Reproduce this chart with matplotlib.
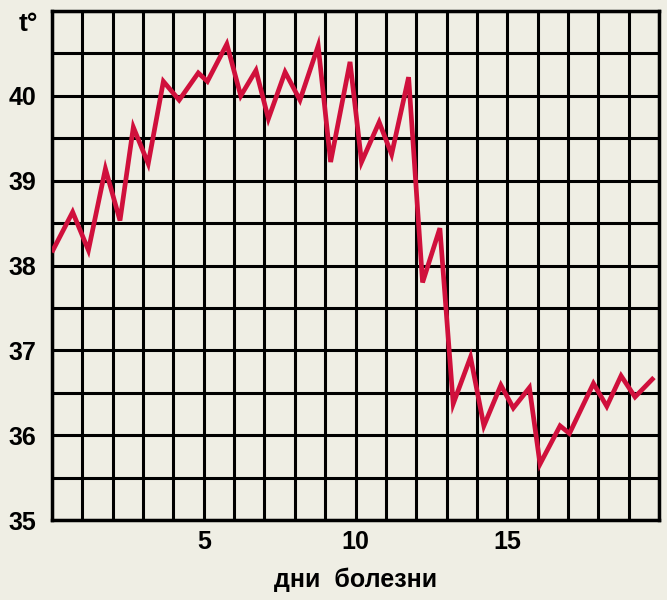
import matplotlib
matplotlib.use("Agg")
import matplotlib.pyplot as plt

days = [0.03, 0.68, 1.2, 1.76, 2.24, 2.68, 3.17, 3.67, 4.19, 4.82, 5.12, 5.76,
        6.22, 6.72, 7.13, 7.68, 8.17, 8.77, 9.18, 9.82, 10.2, 10.78, 11.19,
        11.75, 12.21, 12.78, 13.22, 13.79, 14.23, 14.79, 15.2, 15.73, 16.08,
        16.74, 17.05, 17.84, 18.28, 18.75, 19.21, 19.78]
temps = [38.18, 38.63, 38.18, 39.14, 38.53, 39.63, 39.2, 40.17, 39.95, 40.27,
         40.17, 40.61, 40.0, 40.3, 39.73, 40.28, 39.95, 40.59, 39.22, 40.4,
         39.22, 39.69, 39.31, 40.22, 37.8, 38.44, 36.37, 36.92, 36.11, 36.59,
         36.32, 36.56, 35.66, 36.11, 36.02, 36.61, 36.34, 36.7, 36.45, 36.66]

x_ticks = [5, 10, 15]
y_ticks = [35, 36, 37, 38, 39, 40]
x_label = "дни  болезни"
y_label = "t°"

bg = "#efeee4"
plt.rcParams['font.family'] = ['Liberation Sans', 'DejaVu Sans']

fig = plt.figure(figsize=(6.67, 6.0), dpi=100, facecolor=bg)
ax = fig.add_axes([52/667, 80/600, 607/667, 509/600])
ax.set_facecolor(bg)

ax.set_xlim(0, 20)
ax.set_ylim(35, 41)

# grid
for gx in range(0, 21):
    ax.axvline(gx, color="black", lw=2.2, zorder=1)
for i in range(13):
    ax.axhline(35 + 0.5 * i, color="black", lw=2.2, zorder=1)

ax.plot(days, temps, color="#d0103c", lw=3.4, solid_joinstyle="miter", zorder=3)

ax.set_xticks(x_ticks)
ax.set_yticks(y_ticks)
ax.tick_params(length=0, labelsize=18)
ax.tick_params(axis="y", pad=11)
ax.tick_params(axis="x", pad=7)
for lab in ax.get_xticklabels() + ax.get_yticklabels():
    lab.set_fontweight("bold")

for s in ax.spines.values():
    s.set_linewidth(2.5)
    s.set_color("black")

ax.set_xlabel(x_label, fontsize=18, fontweight="bold", labelpad=10)
fig.text(28/667, 1 - 24/600, y_label, fontsize=19, fontweight="bold",
         ha="center", va="center")

fig.savefig("out.png", dpi=100, facecolor=bg)
